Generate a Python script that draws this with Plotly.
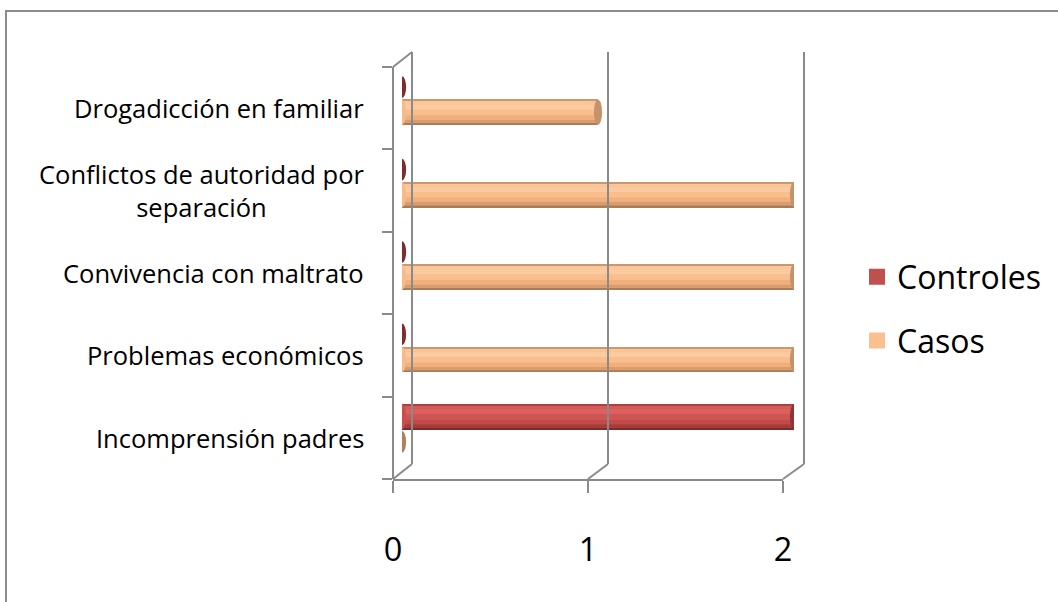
import plotly.graph_objects as go

# ---------------- data ----------------
categories = [
    "Incomprensión padres",
    "Problemas económicos",
    "Convivencia con maltrato",
    "Conflictos de autoridad por<br>separación",
    "Drogadicción en familiar",
]
casos = [0, 2, 2, 2, 1]
controles = [2, 0, 0, 0, 0]
x_ticks = [0, 1, 2]
series_names = ["Controles", "Casos"]

# ---------------- geometry helpers (pixels -> paper) ----------------
W, H = 1058, 602
def X(px):
    return px / W
def Y(py):
    return 1 - py / H

GRID = "#8a8a8a"
FONT = "Open Sans"

# bar placement within each category (category units)
BAR_W = 0.303
CASOS_OFF = -0.2
CONTROLES_OFF = 0.1035

# gradient bands for cylinders: (start fraction from bottom, end fraction, color)
casos_bands = [
    (0.00, 1.00, "#f2b480"),
    (0.00, 0.07, "#a97c5a"),
    (0.07, 0.20, "#d99d6c"),
    (0.20, 0.38, "#efb07d"),
    (0.38, 0.60, "#f8be8c"),
    (0.60, 0.82, "#fccaa0"),
    (0.82, 0.95, "#fbc698"),
    (0.95, 1.00, "#c9986f"),
]
controles_bands = [
    (0.00, 1.00, "#c84f4d"),
    (0.00, 0.07, "#7a2b2a"),
    (0.07, 0.20, "#a43c3a"),
    (0.20, 0.38, "#c04a48"),
    (0.38, 0.60, "#cf5553"),
    (0.60, 0.82, "#da615f"),
    (0.82, 0.95, "#d55a58"),
    (0.95, 1.00, "#a84341"),
]

fig = go.Figure()

def add_cylinder(values, offset, bands):
    for (f0, f1, col) in bands:
        fig.add_trace(go.Bar(
            x=values, y=list(range(len(categories))), orientation="h",
            offset=offset + f0 * BAR_W, width=(f1 - f0) * BAR_W,
            marker=dict(color=col, line=dict(width=0)),
            showlegend=False, hoverinfo="skip",
            xaxis="x", yaxis="y",
        ))

add_cylinder(casos, CASOS_OFF, casos_bands)
add_cylinder(controles, CONTROLES_OFF, controles_bands)

# legend entries
fig.add_trace(go.Scatter(x=[None], y=[None], mode="markers", name=series_names[0],
                         marker=dict(symbol="square", size=18, color="#c0504d"),
                         legendgroup="a", xaxis="x", yaxis="y"))
fig.add_trace(go.Scatter(x=[None], y=[None], mode="markers", name=series_names[1],
                         marker=dict(symbol="square", size=18, color="#fac090"),
                         legendgroup="b", xaxis="x", yaxis="y"))

shapes = []
# end caps (ellipses) placed through data axes
DX = 0.021
def caps(values, offset, body_col, cap_col, zero_col):
    for i, v in enumerate(values):
        y0 = i + offset
        y1 = y0 + BAR_W
        if v == 0:
            shapes.append(dict(type="circle", xref="x", yref="y",
                               x0=-DX, x1=DX, y0=y0 + 0.02, y1=y1 - 0.02,
                               fillcolor=zero_col, line=dict(width=0)))
        else:
            shapes.append(dict(type="circle", xref="x", yref="y",
                               x0=-DX, x1=DX, y0=y0, y1=y1,
                               fillcolor=body_col, line=dict(width=0)))
            shapes.append(dict(type="circle", xref="x", yref="y",
                               x0=v - DX, x1=v + DX, y0=y0, y1=y1,
                               fillcolor=cap_col, line=dict(width=0)))

caps(casos, CASOS_OFF, "#f6bb89", "#c4936b", "#b0815c")
caps(controles, CONTROLES_OFF, "#c94f4d", "#8f3634", "#7e2d2c")

# 3D frame decoration
line = dict(color=GRID, width=2)
front_left, back_left = 393, 412
front_bottom, back_bottom = 479, 464
front_top, back_top = 67, 52
front_right, back_right = 783, 804
# top of left wall
shapes.append(dict(type="line", xref="paper", yref="paper",
                   x0=X(front_left), y0=Y(front_top), x1=X(back_left), y1=Y(back_top), line=line))
# floor depth lines at each front tick
for fx, bx in [(393, 412), (588, 608), (783, 804)]:
    shapes.append(dict(type="line", xref="paper", yref="paper",
                       x0=X(fx), y0=Y(front_bottom), x1=X(bx), y1=Y(back_bottom), line=line))
# outer chart border
shapes.append(dict(type="rect", xref="paper", yref="paper",
                   x0=X(6), y0=Y(11), x1=X(1070), y1=Y(615),
                   line=dict(color="#8c8c8c", width=2), fillcolor="rgba(0,0,0,0)"))

annotations = []
for i, c in enumerate(categories):
    annotations.append(dict(
        x=X(366), xref="paper", xanchor="right",
        y=i, yref="y", yanchor="middle",
        text=c, showarrow=False, align="center",
        font=dict(family=FONT, size=25.5, color="#000000"),
    ))

px_per_unit = (back_right - back_left) / 2.0
pad = 0.02

fig.update_layout(
    width=W, height=H,
    margin=dict(l=0, r=0, t=0, b=0, pad=0, autoexpand=False),
    paper_bgcolor="white", plot_bgcolor="rgba(0,0,0,0)",
    barmode="overlay",
    showlegend=True,
    legend=dict(x=X(857), y=Y(309), xanchor="left", yanchor="middle",
                traceorder="grouped", tracegroupgap=19,
                font=dict(family=FONT, size=32, color="#000000"),
                itemwidth=30, bgcolor="rgba(0,0,0,0)"),
    shapes=shapes,
    annotations=annotations,
    # bar axis
    xaxis=dict(domain=[X(402), X(794)], range=[0, 2], anchor="y",
               visible=False, fixedrange=True),
    yaxis=dict(domain=[Y(front_bottom), Y(front_top)], range=[-0.5, 4.5],
               tickmode="array", tickvals=[-0.5, 0.5, 1.5, 2.5, 3.5, 4.5],
               showticklabels=False, ticks="outside", ticklen=10, tickwidth=2, tickcolor=GRID,
               showline=True, linecolor=GRID, linewidth=2,
               anchor="free", position=X(front_left),
               showgrid=False, zeroline=False, fixedrange=True),
    # back wall gridlines
    xaxis2=dict(domain=[X(back_left - pad * px_per_unit), X(back_right + pad * px_per_unit)],
                range=[-pad, 2 + pad], anchor="y2",
                tickmode="array", tickvals=x_ticks, showticklabels=False,
                showgrid=True, gridcolor=GRID, gridwidth=2,
                zeroline=False, showline=False, ticks=""),
    yaxis2=dict(domain=[Y(back_bottom), Y(back_top)], range=[0, 1],
                visible=False, anchor="x2"),
    # front floor axis with labels
    xaxis3=dict(domain=[X(front_left), X(front_right)], range=[0, 2], anchor="y",
                tickmode="array", tickvals=x_ticks, ticktext=[str(t) for t in x_ticks],
                ticks="outside", ticklen=12, tickwidth=2, tickcolor=GRID,
                showline=True, linecolor=GRID, linewidth=2,
                showgrid=False, zeroline=False,
                ticklabelstandoff=29,
                tickfont=dict(family=FONT, size=32.5, color="#000000")),
)

# dummy traces to activate helper axes
fig.add_trace(go.Scatter(x=[None], y=[None], xaxis="x2", yaxis="y2", showlegend=False, hoverinfo="skip"))
fig.add_trace(go.Scatter(x=[None], y=[None], xaxis="x3", yaxis="y", showlegend=False, hoverinfo="skip"))

fig.write_html("out.html")
